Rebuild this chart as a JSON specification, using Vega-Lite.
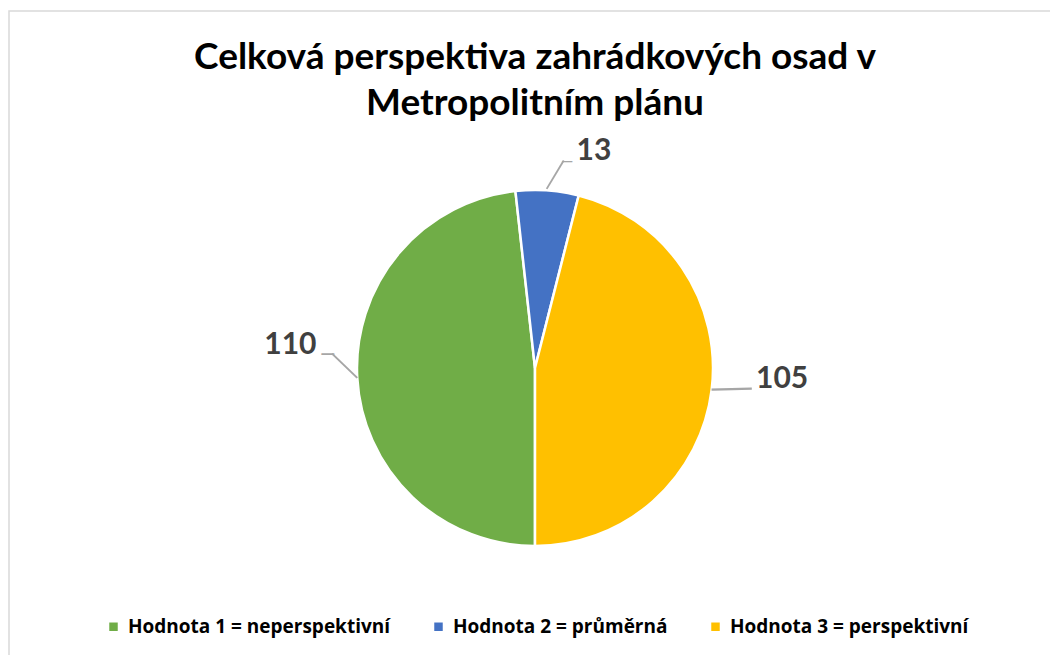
{
  "$schema": "https://vega.github.io/schema/vega-lite/v6.json",
  "autosize": {"type": "none"},
  "padding": {"left": 9, "top": 11, "right": 0, "bottom": 0},
  "width": 1052,
  "height": 714,
  "background": "white",
  "view": {"stroke": "#d9d9d9", "strokeWidth": 1.5},
  "title": {
    "text": ["Celková perspektiva zahrádkových osad v", "Metropolitním plánu"],
    "font": "Lato",
    "fontSize": 37,
    "fontWeight": "bold",
    "color": "#000000",
    "anchor": "middle",
    "frame": "group",
    "offset": -112,
    "lineHeight": 46
  },
  "data": {
    "values": [
      {"kategorie": "Hodnota 1 = neperspektivní", "pocet": 110},
      {"kategorie": "Hodnota 2 = průměrná", "pocet": 13},
      {"kategorie": "Hodnota 3 = perspektivní", "pocet": 105}
    ]
  },
  "encoding": {
    "theta": {
      "field": "pocet",
      "type": "quantitative",
      "stack": true,
      "scale": {"range": [3.14159265, 9.42477796]}
    },
    "order": {"field": "kategorie", "type": "ordinal", "sort": "ascending"},
    "detail": {"field": "kategorie", "type": "nominal"}
  },
  "layer": [
    {
      "mark": {"type": "arc", "radius": 178, "stroke": "white", "strokeWidth": 2.5},
      "encoding": {
        "color": {
          "field": "kategorie",
          "type": "nominal",
          "scale": {
            "domain": ["Hodnota 1 = neperspektivní", "Hodnota 2 = průměrná", "Hodnota 3 = perspektivní"],
            "range": ["#70AD47", "#4472C4", "#FFC000"]
          },
          "legend": {
            "orient": "none",
            "legendX": 95,
            "legendY": 606,
            "direction": "horizontal",
            "title": null,
            "symbolType": "square",
            "symbolSize": 72,
            "symbolStrokeWidth": 0,
            "labelFont": "Open Sans",
            "labelFontSize": 19,
            "labelFontWeight": "bold",
            "labelColor": "#000000",
            "labelLimit": 500,
            "columnPadding": 38,
            "labelOffset": 5
          }
        }
      }
    },
    {
      "mark": {"type": "text", "radius": 218, "dx": 44, "font": "Lato", "fontSize": 30, "fontWeight": "bold", "color": "#404040", "align": "center", "baseline": "middle"},
      "encoding": {
        "text": {"condition": {"test": "datum.kategorie === 'Hodnota 2 = průměrná'", "field": "pocet", "type": "quantitative"}, "value": ""}
      }
    },
    {
      "mark": {"type": "text", "radius": 245, "dy": -36, "font": "Lato", "fontSize": 30, "fontWeight": "bold", "color": "#404040", "align": "center", "baseline": "middle"},
      "encoding": {
        "text": {"condition": {"test": "datum.kategorie === 'Hodnota 1 = neperspektivní'", "field": "pocet", "type": "quantitative"}, "value": ""}
      }
    },
    {
      "mark": {"type": "text", "radius": 247, "dx": 2, "dy": -20, "font": "Lato", "fontSize": 30, "fontWeight": "bold", "color": "#404040", "align": "center", "baseline": "middle"},
      "encoding": {
        "text": {"condition": {"test": "datum.kategorie === 'Hodnota 3 = perspektivní'", "field": "pocet", "type": "quantitative"}, "value": ""}
      }
    },
    {
      "mark": {"type": "text", "radius": 178, "dx": -17.4, "dy": -0.3, "angle": 44, "font": "Lato", "fontSize": 54, "fontWeight": 300, "color": "#a6a6a6", "align": "center", "baseline": "middle"},
      "encoding": {
        "text": {"condition": {"test": "datum.kategorie === 'Hodnota 1 = neperspektivní'", "value": "—"}, "value": ""}
      }
    },
    {
      "mark": {"type": "text", "radius": 178, "dx": -29.5, "dy": -24, "font": "Lato", "fontSize": 19, "fontWeight": 700, "color": "#a6a6a6", "align": "center", "baseline": "middle"},
      "encoding": {
        "text": {"condition": {"test": "datum.kategorie === 'Hodnota 1 = neperspektivní'", "value": "—"}, "value": ""}
      }
    },
    {
      "mark": {"type": "text", "radius": 178, "dx": 17.6, "dy": -1.6, "angle": -59, "font": "Lato", "fontSize": 51, "fontWeight": 300, "color": "#a6a6a6", "align": "center", "baseline": "middle"},
      "encoding": {
        "text": {"condition": {"test": "datum.kategorie === 'Hodnota 2 = průměrná'", "value": "—"}, "value": ""}
      }
    },
    {
      "mark": {"type": "text", "radius": 178, "dx": 20, "dy": -29.5, "font": "Lato", "fontSize": 15, "fontWeight": 700, "color": "#a6a6a6", "align": "center", "baseline": "middle"},
      "encoding": {
        "text": {"condition": {"test": "datum.kategorie === 'Hodnota 2 = průměrná'", "value": "—"}, "value": ""}
      }
    },
    {
      "mark": {"type": "text", "radius": 178, "dx": 20, "dy": -1.5, "angle": -1.5, "font": "Lato", "fontSize": 62, "fontWeight": 300, "color": "#a6a6a6", "align": "center", "baseline": "middle"},
      "encoding": {
        "text": {"condition": {"test": "datum.kategorie === 'Hodnota 3 = perspektivní'", "value": "—"}, "value": ""}
      }
    }
  ]
}
